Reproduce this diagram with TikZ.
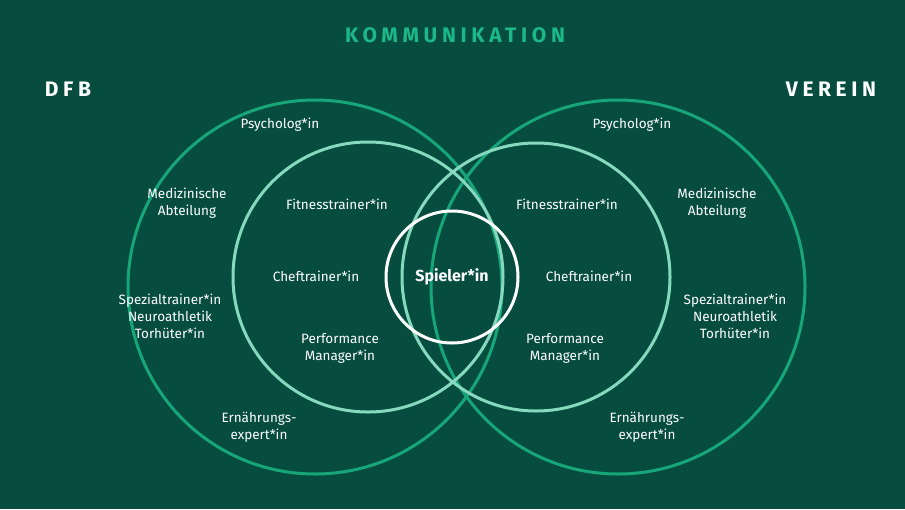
\documentclass[tikz,border=0pt]{standalone}
\usepackage{fontspec}
\setmainfont{Fira Sans}
\setmainfont{Fira Sans}[LetterSpace=0]
\newfontfamily\spaced{Fira Sans}[LetterSpace=22]
\definecolor{bg}{HTML}{064D40}
\definecolor{outer}{HTML}{17A57A}
\definecolor{inner}{HTML}{86D9BC}
\definecolor{ttl}{HTML}{1DB887}
\tikzset{lbl/.style={text=white,font=\fontsize{13.5}{17}\selectfont,align=center},
 ring/.style={line width=3pt},
 head/.style={font=\spaced\bfseries\fontsize{21}{24}\selectfont}}
\begin{document}
\begin{tikzpicture}[x=1pt,y=-1pt]
\fill[bg] (0,0) rectangle (905,509);
\useasboundingbox (0,0) rectangle (905,509);
\draw[ring,outer] (315,287) circle[radius=187];
\draw[ring,outer] (618,287) circle[radius=187];
\draw[ring,inner] (368,277) circle[radius=135];
\draw[ring,inner] (536,277) circle[radius=134];
\draw[ring,white] (452,277) circle[radius=66];
\node[head,text=ttl] (t) at (455,35) {KOMMUNIKATION};
\node[head,text=white] (d) at (68,89) {DFB};
\node[head,text=white] (v) at (831,89) {VEREIN};
\node[lbl] (p1) at (280,125) {Psycholog*in};
\node[lbl] (m1) at (187,203) {Medizinische\\Abteilung};
\node[lbl] (s1) at (170,316) {Spezialtrainer*in\\Neuroathletik\\Torhüter*in};
\node[lbl] (e1) at (259,427) {Ernährungs-\\expert*in};
\node[lbl] (f1) at (337,204) {Fitnesstrainer*in};
\node[lbl] (c1) at (316,276) {Cheftrainer*in};
\node[lbl] (pm1) at (340,348) {Performance\\Manager*in};
\node[text=white,font=\bfseries\fontsize{16}{19}\selectfont] (sp) at (452,277) {Spieler*in};
\node[lbl] (p2) at (632,125) {Psycholog*in};
\node[lbl] (m2) at (717,203) {Medizinische\\Abteilung};
\node[lbl] (s2) at (735,316) {Spezialtrainer*in\\Neuroathletik\\Torhüter*in};
\node[lbl] (e2) at (647,427) {Ernährungs-\\expert*in};
\node[lbl] (f2) at (567,204) {Fitnesstrainer*in};
\node[lbl] (c2) at (589,276) {Cheftrainer*in};
\node[lbl] (pm2) at (565,348) {Performance\\Manager*in};
\end{tikzpicture}
\end{document}
